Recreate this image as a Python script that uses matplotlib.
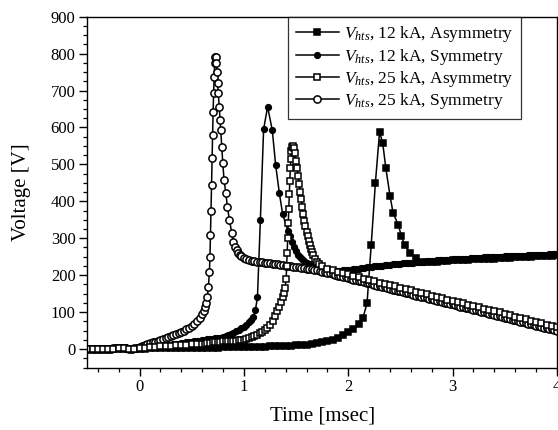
import matplotlib
matplotlib.use("Agg")
import matplotlib.pyplot as plt
from matplotlib.ticker import MultipleLocator

plt.rcParams['font.family'] = ['Liberation Serif', 'DejaVu Serif']
plt.rcParams['mathtext.fontset'] = 'custom'
plt.rcParams['mathtext.rm'] = 'Liberation Serif'
plt.rcParams['mathtext.it'] = 'Liberation Serif:italic'

# ---------------- data ----------------
# pre-trigger baseline
base_t_coarse = [-0.50, -0.45, -0.40, -0.35, -0.30, -0.25, -0.20, -0.15, -0.10, -0.05]
base_v_a = [0, -1, 0, 1, 0, 1, 3, 2, 1, 0]
base_v_c = [-1, 0, 1, 0, -1, 1, 3, 3, 1, 0]
base_t_fine = [-0.500, -0.475, -0.450, -0.425, -0.400, -0.375, -0.350, -0.325,
               -0.300, -0.275, -0.250, -0.225, -0.200, -0.175, -0.150, -0.125,
               -0.100, -0.075, -0.050, -0.025]
base_v_b = [1, 0, 0, -1, -1, 0, 0, 1, 1, 2, 2, 3, 4, 3, 2, 1, 0, 0, 1, 2]
base_v_d = [0, 1, 1, 0, 0, -1, 0, 0, 1, 1, 2, 3, 4, 4, 3, 2, 1, 1, 2, 3]

# V_hts, 12 kA, Asymmetry  (filled squares)
a_t = [0.00, 0.05, 0.10, 0.15, 0.20, 0.25, 0.30, 0.35, 0.40, 0.45, 0.50, 0.55,
       0.60, 0.65, 0.70, 0.75, 0.80, 0.85, 0.90, 0.95, 1.00, 1.05, 1.10, 1.15,
       1.20, 1.25, 1.30, 1.35, 1.40, 1.45, 1.50, 1.55, 1.60, 1.65, 1.70, 1.75,
       1.80, 1.85, 1.90, 1.95, 2.00, 2.05, 2.10, 2.14, 2.18, 2.22, 2.26, 2.30,
       2.33, 2.36, 2.40, 2.43, 2.48, 2.51, 2.54, 2.59, 2.65,
       2.70, 2.75, 2.80, 2.85, 2.90, 2.95, 3.00, 3.05, 3.10, 3.15, 3.20, 3.25,
       3.30, 3.35, 3.40, 3.45, 3.50, 3.55, 3.60, 3.65, 3.70, 3.75, 3.80, 3.85,
       3.90, 3.95, 4.00]
a_v = [1, 1, 2, 2, 2, 3, 3, 3, 3, 3, 3, 4,
       4, 4, 4, 4, 5, 5, 5, 5, 5, 5, 5, 6,
       6, 7, 7, 8, 8, 9, 10, 11, 12, 14, 16, 18,
       21, 25, 30, 37, 45, 55, 68, 84, 124, 282, 450, 588,
       558, 490, 415, 368, 336, 305, 282, 260, 246,
       236, 236, 237, 237, 238, 239, 240, 241, 241, 242, 243, 243,
       244, 245, 245, 246, 247, 247, 248, 249, 249, 250, 251, 251,
       252, 253, 254]

# V_hts, 12 kA, Symmetry  (filled circles)
b_t = [0.000, 0.025, 0.050, 0.075, 0.100, 0.125, 0.150, 0.175, 0.200, 0.225,
       0.250, 0.275, 0.300, 0.325, 0.350, 0.375, 0.400, 0.425, 0.450, 0.475,
       0.500, 0.525, 0.550, 0.575, 0.600, 0.625, 0.650, 0.675, 0.700, 0.725,
       0.750, 0.775, 0.800, 0.825, 0.850, 0.875, 0.900, 0.925, 0.950, 0.975,
       1.000, 1.025, 1.050, 1.070, 1.090, 1.110, 1.130, 1.158, 1.189, 1.227,
       1.272, 1.304, 1.340, 1.371, 1.420, 1.440, 1.460, 1.480, 1.500, 1.520,
       1.540, 1.560, 1.580, 1.600, 1.625, 1.650, 1.675, 1.700, 1.725, 1.750,
       1.775, 1.800, 1.825, 1.850, 1.875, 1.900, 1.925, 1.950, 1.975,
       2.000, 2.025, 2.050, 2.075, 2.100, 2.125, 2.150, 2.175, 2.200, 2.225,
       2.250, 2.275, 2.300, 2.325, 2.350, 2.375, 2.400, 2.425, 2.450, 2.475,
       2.500, 2.525, 2.550, 2.575, 2.600, 2.625, 2.650, 2.675, 2.700, 2.725,
       2.750, 2.775, 2.800, 2.825, 2.850, 2.875, 2.900, 2.925, 2.950, 2.975,
       3.000, 3.025, 3.050, 3.075, 3.100, 3.125, 3.150, 3.175, 3.200, 3.225,
       3.250, 3.275, 3.300, 3.325, 3.350, 3.375, 3.400, 3.425, 3.450, 3.475,
       3.500, 3.525, 3.550, 3.575, 3.600, 3.625, 3.650, 3.675, 3.700, 3.725,
       3.750, 3.775, 3.800, 3.825, 3.850, 3.875, 3.900, 3.925, 3.950, 3.975,
       4.000]
b_v = [3, 4, 5, 5, 6, 6, 7, 7, 8, 9,
       10, 11, 12, 13, 14, 15, 16, 17, 18, 19,
       20, 21, 22, 23, 24, 25, 26, 27, 28, 29,
       30, 31, 33, 35, 38, 41, 44, 48, 52, 56,
       60, 65, 72, 79, 88, 105, 140, 350, 595, 656,
       593, 499, 422, 366, 321, 305, 290, 277, 265, 256,
       248, 243, 238, 234, 230, 226, 223, 221, 219, 217,
       215, 214, 213, 212, 212, 212, 212, 213, 213,
       214, 215, 216, 217, 218, 219, 220, 221, 222, 223,
       224, 224, 225, 226, 227, 227, 228, 229, 230, 230,
       231, 232, 232, 233, 234, 234, 235, 236, 236, 237,
       238, 238, 239, 239, 240, 240, 241, 241, 242, 242,
       243, 243, 244, 244, 245, 245, 245, 246, 246, 247,
       247, 247, 248, 248, 248, 249, 249, 250, 250, 250,
       251, 251, 251, 252, 252, 252, 253, 253, 253, 254,
       254, 254, 255, 255, 256, 256, 256, 257, 257, 257,
       258]

# V_hts, 25 kA, Asymmetry  (open squares)
c_t = [0.00, 0.05, 0.10, 0.15, 0.20, 0.25, 0.30, 0.35, 0.40, 0.45, 0.50, 0.55,
       0.600, 0.625, 0.650, 0.675, 0.700, 0.725, 0.750, 0.775, 0.800, 0.825,
       0.850, 0.875, 0.900, 0.925, 0.950, 0.975, 1.000, 1.025, 1.050, 1.075,
       1.100, 1.125, 1.150, 1.175, 1.200, 1.225, 1.250, 1.275, 1.300, 1.320,
       1.340, 1.355, 1.370, 1.385, 1.395, 1.405, 1.410, 1.415, 1.420, 1.425,
       1.430, 1.435, 1.440, 1.445, 1.450, 1.455, 1.460, 1.470, 1.480, 1.490,
       1.500, 1.510, 1.520, 1.530, 1.540, 1.550, 1.560, 1.570, 1.580, 1.590,
       1.600, 1.610, 1.620, 1.630, 1.640, 1.650, 1.660, 1.680, 1.700, 1.720,
       1.75, 1.80, 1.85, 1.90, 1.95, 2.00, 2.05, 2.10, 2.15, 2.20, 2.25, 2.30,
       2.35, 2.40, 2.45, 2.50, 2.55, 2.60, 2.65, 2.70, 2.75, 2.80, 2.85, 2.90,
       2.95, 3.00, 3.05, 3.10, 3.15, 3.20, 3.25, 3.30, 3.35, 3.40, 3.45, 3.50,
       3.55, 3.60, 3.65, 3.70, 3.75, 3.80, 3.85, 3.90, 3.95, 4.00]
c_v = [2, 4, 5, 6, 7, 8, 9, 10, 11, 12, 13, 14,
       15, 15, 16, 17, 18, 19, 20, 20, 21, 21,
       22, 22, 23, 23, 24, 24, 25, 27, 29, 32,
       35, 39, 43, 47, 52, 58, 66, 76, 90, 102,
       115, 127, 140, 153, 165, 190, 225, 260, 300, 340,
       380, 420, 455, 490, 515, 535, 546, 550, 545, 530,
       510, 490, 468, 447, 425, 405, 385, 365, 348, 332,
       318, 305, 293, 282, 272, 262, 254, 245, 237, 231,
       225, 218, 213, 209, 206, 202, 198, 195, 191, 188, 184, 180,
       177, 173, 170, 166, 162, 159, 155, 152, 148, 145, 141, 138,
       134, 131, 127, 124, 120, 116, 113, 109, 106, 102, 99, 95,
       91, 88, 84, 81, 77, 73, 70, 66, 63, 59]

# V_hts, 25 kA, Symmetry  (open circles)
d_t = [0.000, 0.025, 0.050, 0.075, 0.100, 0.125, 0.150, 0.175, 0.200, 0.225,
       0.250, 0.275, 0.300, 0.325, 0.350, 0.375, 0.400, 0.425, 0.450, 0.475,
       0.500, 0.525, 0.550, 0.575, 0.600, 0.615, 0.630, 0.640, 0.650, 0.660,
       0.670, 0.675, 0.680, 0.685, 0.690, 0.695, 0.700, 0.705, 0.710, 0.715,
       0.720, 0.725, 0.730, 0.735, 0.740, 0.748, 0.756, 0.764, 0.772, 0.779,
       0.789, 0.798, 0.810, 0.827, 0.842, 0.861, 0.884, 0.900, 0.915, 0.930,
       0.945, 0.960, 0.975, 1.000, 1.025, 1.050, 1.075, 1.100, 1.125, 1.150,
       1.175, 1.200, 1.225, 1.250, 1.275, 1.300, 1.325, 1.350, 1.375, 1.400,
       1.425, 1.450, 1.475, 1.500, 1.525, 1.550, 1.575, 1.600, 1.625, 1.650,
       1.675, 1.700, 1.725, 1.750, 1.775, 1.800, 1.825, 1.850, 1.875, 1.900,
       1.925, 1.950, 1.975, 2.000, 2.025, 2.050, 2.075, 2.100, 2.125, 2.150,
       2.175, 2.200, 2.225, 2.250, 2.275, 2.300, 2.325, 2.350, 2.375, 2.400,
       2.425, 2.450, 2.475, 2.500, 2.525, 2.550, 2.575, 2.600, 2.625, 2.650,
       2.675, 2.700, 2.725, 2.750, 2.775, 2.800, 2.825, 2.850, 2.875, 2.900,
       2.925, 2.950, 2.975, 3.000, 3.025, 3.050, 3.075, 3.100, 3.125, 3.150,
       3.175, 3.200, 3.225, 3.250, 3.275, 3.300, 3.325, 3.350, 3.375, 3.400,
       3.425, 3.450, 3.475, 3.500, 3.525, 3.550, 3.575, 3.600, 3.625, 3.650,
       3.675, 3.700, 3.725, 3.750, 3.775, 3.800, 3.825, 3.850, 3.875, 3.900,
       3.925, 3.950, 3.975, 4.000]
d_v = [5, 9, 12, 14, 16, 18, 20, 23, 25, 28,
       30, 33, 35, 38, 40, 43, 46, 49, 53, 57,
       62, 68, 75, 84, 95, 104, 115, 126, 140, 169,
       210, 250, 309, 375, 445, 517, 580, 643, 693, 738,
       775, 792, 790, 775, 750, 720, 693, 656, 620, 593,
       548, 503, 458, 422, 386, 350, 314, 290, 277, 267,
       260, 255, 251, 246, 243, 241, 239, 238, 237, 236,
       235, 234, 233, 232, 231, 230, 229, 228, 227, 226,
       225, 224, 223, 222, 221, 220, 219, 218, 217, 216,
       215, 214, 212, 210, 208, 207, 205, 203, 201, 199,
       198, 196, 194, 192, 190, 188, 187, 185, 183, 181,
       179, 178, 176, 174, 172, 170, 169, 167, 165, 163,
       161, 160, 158, 156, 154, 152, 151, 149, 147, 145,
       143, 142, 140, 138, 136, 135, 133, 131, 129, 128,
       126, 124, 122, 121, 119, 117, 115, 114, 112, 110,
       108, 106, 105, 103, 101, 99, 97, 96, 94, 92,
       90, 89, 87, 85, 83, 81, 80, 78, 76, 74,
       72, 71, 69, 67, 65, 63, 62, 60, 58, 56,
       54, 53, 51, 49]

labels = [r'$V_{hts}$, 12 kA, Asymmetry', r'$V_{hts}$, 12 kA, Symmetry',
          r'$V_{hts}$, 25 kA, Asymmetry', r'$V_{hts}$, 25 kA, Symmetry']

# ---------------- drawing ----------------
series = [
    (base_t_coarse + a_t, base_v_a + a_v, 's', 'k', 3.9, labels[0]),
    (base_t_fine + b_t, base_v_b + b_v, 'o', 'k', 4.1, labels[1]),
    (base_t_fine + d_t, base_v_d + d_v, 'o', 'white', 5.2, labels[3]),
    (base_t_coarse + c_t, base_v_c + c_v, 's', 'white', 4.5, labels[2]),
]

fig = plt.figure(figsize=(5.58, 4.30), dpi=100)
ax = fig.add_axes([0.1565, 0.1453, 0.8417, 0.8159])

handles = {}
for t, v, m, fc, ms, lab in series:
    h, = ax.plot(t, v, color='black', lw=1.1, marker=m, markersize=ms,
                 markerfacecolor=fc, markeredgecolor='black', markeredgewidth=1.1,
                 label=lab)
    handles[lab] = h

ax.set_xlim(-0.5, 4.0)
ax.set_ylim(-50, 900)
ax.xaxis.set_major_locator(MultipleLocator(1))
ax.xaxis.set_minor_locator(MultipleLocator(0.2))
ax.yaxis.set_major_locator(MultipleLocator(100))
ax.yaxis.set_minor_locator(MultipleLocator(25))
ax.tick_params(which='major', direction='out', length=5.5, width=1.0,
               labelsize=12, top=False, right=False, pad=3)
ax.tick_params(which='minor', direction='out', length=3, width=0.9,
               top=False, right=False)
for s in ax.spines.values():
    s.set_linewidth(1.0)

ax.set_xlabel('Time [msec]', fontsize=15, labelpad=8)
ax.set_ylabel('Voltage [V]', fontsize=15, labelpad=14)

leg = ax.legend([handles[l] for l in labels], labels, loc='upper right',
                bbox_to_anchor=(0.923, 1.0), fontsize=12.5, frameon=True,
                fancybox=False, shadow=False, handlelength=2.5,
                handletextpad=0.25, labelspacing=0.12, borderpad=0.45,
                borderaxespad=0.0)
leg.get_frame().set_edgecolor('black')
leg.get_frame().set_linewidth(0.9)

fig.savefig('out.png', dpi=100)
